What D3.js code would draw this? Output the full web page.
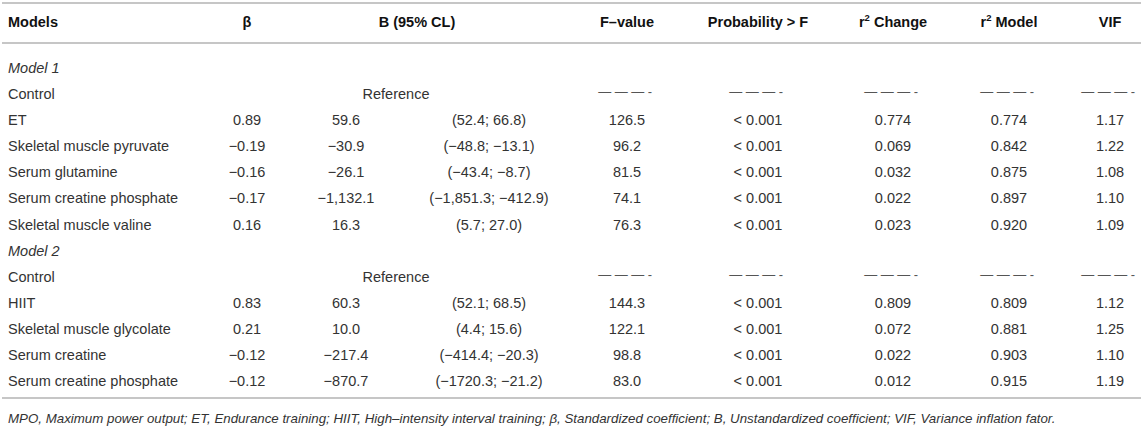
<!DOCTYPE html>
<html>
<head>
<meta charset="utf-8">
<title>Regression models table</title>
<style>
  body { margin: 0; background: #fff; }
  svg text { font-family: "Liberation Sans", Arial, Helvetica, sans-serif; }
</style>
</head>
<body>
<svg id="tbl" width="1143" height="432"></svg>
<script src="https://d3js.org/d3.v7.min.js"></script>
<script>
// table content
const models = ["Model 1", "Control", "ET", "Skeletal muscle pyruvate", "Serum glutamine",
  "Serum creatine phosphate", "Skeletal muscle valine", "Model 2", "Control", "HIIT",
  "Skeletal muscle glycolate", "Serum creatine", "Serum creatine phosphate"];
const rowKind = ["group", "ref", "val", "val", "val", "val", "val", "group", "ref", "val", "val", "val", "val"];
const beta = [null, null, 0.89, -0.19, -0.16, -0.17, 0.16, null, null, 0.83, 0.21, -0.12, -0.12];
const bValue = [null, null, "59.6", "−30.9", "−26.1", "−1,132.1", "16.3", null, null, "60.3", "10.0", "−217.4", "−870.7"];
const ci = [null, null, "(52.4; 66.8)", "(−48.8; −13.1)", "(−43.4; −8.7)", "(−1,851.3; −412.9)", "(5.7; 27.0)",
  null, null, "(52.1; 68.5)", "(4.4; 15.6)", "(−414.4; −20.3)", "(−1720.3; −21.2)"];
const fValue = [null, null, 126.5, 96.2, 81.5, 74.1, 76.3, null, null, 144.3, 122.1, 98.8, 83.0];
const prob = [null, null, "< 0.001", "< 0.001", "< 0.001", "< 0.001", "< 0.001", null, null, "< 0.001", "< 0.001", "< 0.001", "< 0.001"];
const r2Change = [null, null, 0.774, 0.069, 0.032, 0.022, 0.023, null, null, 0.809, 0.072, 0.022, 0.012];
const r2Model = [null, null, 0.774, 0.842, 0.875, 0.897, 0.920, null, null, 0.809, 0.881, 0.903, 0.915];
const vif = [null, null, 1.17, 1.22, 1.08, 1.10, 1.09, null, null, 1.12, 1.25, 1.10, 1.19];
const footnote = "MPO, Maximum power output; ET, Endurance training; HIIT, High–intensity interval training; β, Standardized coefficient; B, Unstandardized coefficient; VIF, Variance inflation fator.";

const svg = d3.select("#tbl");
const ink = "#333";
const rule = "#b3b3b3";

// column centres
const colKeys = ["beta", "b", "ci", "ref", "bhead", "f", "p", "r2c", "r2m", "vif"];
const colX = d3.scaleOrdinal().domain(colKeys)
  .range([247, 346, 489, 396, 417, 627, 758, 893, 1009, 1110]);

const rowY = d3.scaleLinear().domain([0, models.length - 1]).range([73, 386]);
const headY = 27;

// rules
const rules = [3, 43, 398];
svg.selectAll("line.rule").data(rules).join("line")
  .attr("class", "rule")
  .attr("x1", 2).attr("x2", 1141)
  .attr("y1", d => d).attr("y2", d => d)
  .attr("stroke", rule).attr("stroke-width", 1.6);

// header
const header = [
  { key: null, text: "Models" },
  { key: "beta", text: "β" },
  { key: "bhead", text: "B (95% CL)" },
  { key: "f", text: "F–value" },
  { key: "p", text: "Probability > F" },
  { key: "r2c", text: "r|2| Change" },
  { key: "r2m", text: "r|2| Model" },
  { key: "vif", text: "VIF" }
];
const hd = svg.selectAll("text.head").data(header).join("text")
  .attr("class", "head")
  .attr("x", d => d.key ? colX(d.key) : 8)
  .attr("y", headY)
  .attr("text-anchor", d => d.key ? "middle" : "start")
  .attr("font-size", 14.5)
  .attr("font-weight", "bold")
  .attr("fill", "#111");
hd.each(function(d) {
  const parts = d.text.split("|");
  const t = d3.select(this);
  if (parts.length === 1) { t.text(d.text); return; }
  t.append("tspan").text(parts[0]);
  t.append("tspan").attr("font-size", 9.5).attr("dy", -6).text(parts[1]);
  t.append("tspan").attr("dy", 6).text(parts[2]);
});

// body rows
const rows = models.map((m, i) => ({ i, m, kind: rowKind[i] }));
const g = svg.selectAll("g.row").data(rows).join("g")
  .attr("class", "row")
  .attr("transform", d => `translate(0,${rowY(d.i)})`);

g.append("text")
  .attr("x", 8)
  .attr("font-size", 14.5)
  .attr("font-style", d => d.kind === "group" ? "italic" : "normal")
  .attr("fill", ink)
  .text(d => d.m);

const f2 = d3.format(".2f"), f1 = d3.format(".1f"), f3 = d3.format(".3f");
const cellsFor = d => {
  const i = d.i;
  if (d.kind === "ref") {
    return [{ key: "ref", text: "Reference" }]
      .concat(["f", "p", "r2c", "r2m", "vif"].map(k => ({ key: k, text: "———-", dash: true })));
  }
  if (d.kind === "group") return [];
  return [
    { key: "beta", text: f2(beta[i]) },
    { key: "b", text: bValue[i] },
    { key: "ci", text: ci[i] },
    { key: "f", text: f1(fValue[i]) },
    { key: "p", text: prob[i] },
    { key: "r2c", text: f3(r2Change[i]) },
    { key: "r2m", text: f3(r2Model[i]) },
    { key: "vif", text: f2(vif[i]) }
  ];
};

g.selectAll("text.cell").data(cellsFor).join("text")
  .attr("class", "cell")
  .attr("x", c => colX(c.key))
  .attr("y", c => c.dash ? -3 : 0)
  .attr("text-anchor", "middle")
  .attr("font-size", c => c.dash ? 13 : 14.5)
  .attr("letter-spacing", c => c.dash ? 3.5 : null)
  .attr("fill", c => c.dash ? "#555" : ink)
  .text(c => c.text);

// footnote
svg.append("text")
  .attr("x", 8).attr("y", 423)
  .attr("font-size", 13.3)
  .attr("font-style", "italic")
  .attr("fill", ink)
  .text(footnote);
</script>
</body>
</html>
